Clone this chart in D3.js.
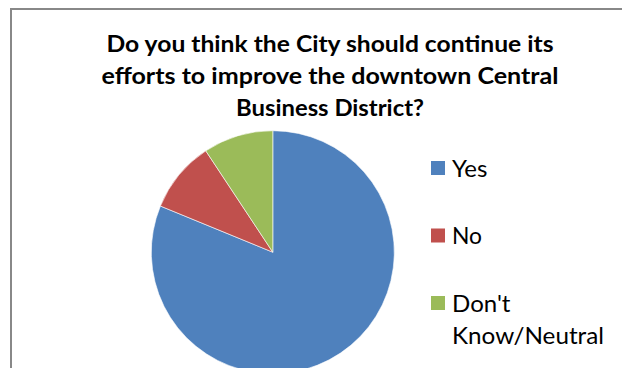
<!DOCTYPE html>
<html>
<head>
<meta charset="utf-8">
<script src="https://cdn.jsdelivr.net/npm/d3@7"></script>
<style>
  html, body { margin: 0; padding: 0; background: #fff; }
  svg { display: block; }
</style>
</head>
<body>
<svg id="chart" width="622" height="368"></svg>
<script>
const titleLines = ["Do you think the City should continue its", "efforts to improve the downtown Central", "Business District?"];
const categories = ["Yes", "No", "Don't Know/Neutral"];
const values = [81.2, 9.5, 9.3];
const legendLines = [["Yes"], ["No"], ["Don't", "Know/Neutral"]];
const colors = ["#4F81BD", "#C0504D", "#9BBB59"];

const svg = d3.select("#chart");
const W = 622, H = 368;
svg.append("rect").attr("width", W).attr("height", H).attr("fill", "#fff");

// chart border
svg.append("rect")
  .attr("x", 11).attr("y", 9).attr("width", 800).attr("height", 600)
  .attr("fill", "none").attr("stroke", "#888").attr("stroke-width", 2);

// title
const titleLens = [447, 457, 188];
const titleBase = [52, 83.5, 116];
svg.append("g").selectAll("text").data(titleLines).join("text")
  .attr("x", 330).attr("y", (d, i) => titleBase[i])
  .attr("text-anchor", "middle")
  .attr("font-family", "Lato, 'Open Sans', sans-serif")
  .attr("font-weight", "bold").attr("font-size", 23.5)
  .attr("fill", "#000")
  .attr("textLength", (d, i) => titleLens[i])
  .attr("lengthAdjust", "spacingAndGlyphs")
  .text(d => d);

// pie
const cx = 272.8, cy = 252.2, r = 121.5;
const pie = d3.pie().sort(null).value(d => d)(values);
const arc = d3.arc().innerRadius(0).outerRadius(r);
svg.append("g").attr("transform", `translate(${cx},${cy})`)
  .selectAll("path").data(pie).join("path")
  .attr("d", arc)
  .attr("fill", (d, i) => colors[i])
  .attr("stroke", "#fff").attr("stroke-width", 0.6);

// legend
const color = d3.scaleOrdinal().domain(categories).range(colors);
const rowY = d3.scalePoint().domain(categories).range([161, 296]);
const legendLens = [[35.5], [30], [58.5, 152]];
const lg = svg.append("g");
categories.forEach((c, i) => {
  const y0 = rowY(c);
  lg.append("rect").attr("x", 431).attr("y", y0).attr("width", 14).attr("height", 14)
    .attr("fill", color(c));
  legendLines[i].forEach((t, j) => {
    lg.append("text")
      .attr("x", 452).attr("y", y0 + 15.5 + j * 32)
      .attr("font-family", "Lato, 'Open Sans', sans-serif")
      .attr("font-size", 23.5).attr("fill", "#000")
      .attr("textLength", legendLens[i][j])
      .attr("lengthAdjust", "spacingAndGlyphs")
      .text(t);
  });
});
</script>
</body>
</html>
